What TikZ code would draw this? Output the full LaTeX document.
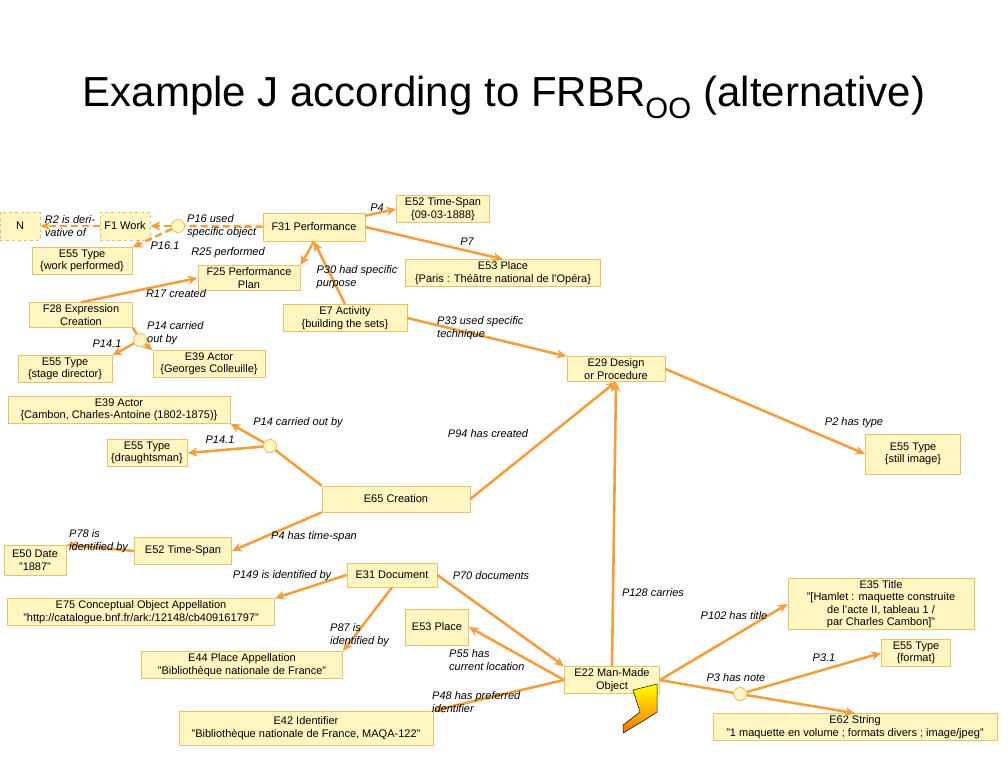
\documentclass[tikz,border=0pt]{standalone}
\usepackage{fontspec}
\setmainfont{Liberation Sans}
\usetikzlibrary{arrows.meta}
\definecolor{bfill}{HTML}{FFF6C2}
\definecolor{bdraw}{HTML}{E8C070}
\definecolor{arr}{HTML}{F0A040}
\begin{document}
\begin{tikzpicture}[x=1pt,y=-1pt,
 box/.style={draw=bdraw,fill=bfill,line width=0.8pt,align=center,font=\fontsize{11}{12.5}\selectfont,inner sep=2pt},
 dbox/.style={box,dashed},
 lk/.style={draw=arr,line width=2.6pt,-{Stealth[length=10pt,width=9pt]}},
 ln/.style={draw=arr,line width=2.6pt},
 dl/.style={dash pattern=on 7pt off 4pt},
 circ/.style={circle,draw=bdraw,fill=bfill,minimum size=13pt,inner sep=0pt,line width=0.8pt},
 lab/.style={font=\itshape\fontsize{11}{12.5}\selectfont,align=left,inner sep=0pt}]
\useasboundingbox (0,0) rectangle (1008,756);
\node[font=\fontsize{42}{46}\selectfont] (title) at (504,97) {Example J according to FRBR\textsubscript{OO} (alternative)};
% nodes
\node[dbox,minimum width=40pt,minimum height=28pt] (N) at (20,226) {N};
\node[dbox,minimum width=50pt,minimum height=28pt] (F1) at (125,226) {F1 Work};
\node[box,minimum width=102pt,minimum height=28pt] (F31) at (314,227) {F31 Performance};
\node[box,minimum width=93pt] (E52a) at (443,209) {E52 Time-Span\\\{09-03-1888\}};
\node[box,minimum width=195pt] (E53a) at (503,273) {E53 Place\\\{Paris : Théâtre national de l'Opéra\}};
\node[box,minimum width=100pt] (E55wp) at (82,261) {E55 Type\\\{work performed\}};
\node[box,minimum width=102pt] (F25) at (249,278) {F25 Performance\\Plan};
\node[box,minimum width=103pt] (F28) at (81,315) {F28 Expression\\Creation};
\node[box,minimum width=124pt] (E7) at (345,318) {E7 Activity\\\{building the sets\}};
\node[box,minimum width=112pt] (E39g) at (209,364) {E39 Actor\\\{Georges Colleuille\}};
\node[box,minimum width=94pt] (E55sd) at (65,369) {E55 Type\\\{stage director\}};
\node[box,minimum width=98pt] (E29) at (616,369) {E29 Design\\or Procedure};
\node[box,minimum width=222pt] (E39c) at (119,410) {E39 Actor\\\{Cambon, Charles-Antoine (1802-1875)\}};
\node[box,minimum width=80pt] (E55dr) at (147,453) {E55 Type\\\{draughtsman\}};
\node[box,minimum width=95pt,minimum height=40pt] (E55si) at (913,454) {E55 Type\\\{still image\}};
\node[box,minimum width=148pt,minimum height=26pt] (E65) at (396,499) {E65 Creation};
\node[box,minimum width=62pt,minimum height=30pt] (E50) at (35,560) {E50 Date\\"1887"};
\node[box,minimum width=97pt,minimum height=27pt] (E52b) at (183,551) {E52 Time-Span};
\node[box,minimum width=90pt,minimum height=24pt] (E31) at (392,575) {E31 Document};
\node[box,minimum width=267pt] (E75) at (141,612) {E75 Conceptual Object Appellation\\"http://catalogue.bnf.fr/ark:/12148/cb409161797"};
\node[box,minimum width=63pt,minimum height=36pt] (E53b) at (437,627) {E53 Place};
\node[box,minimum width=201pt] (E44) at (242,665) {E44 Place Appellation\\"Bibliothèque nationale de France"};
\node[box,minimum width=95pt] (E22) at (612,680) {E22 Man-Made\\Object};
\node[box,minimum width=186pt] (E35) at (881,604) {E35 Title\\"[Hamlet : maquette construite\\de l'acte II, tableau 1 /\\par Charles Cambon]"};
\node[box,minimum width=69pt] (E55f) at (916,653) {E55 Type\\\{format\}};
\node[box,minimum width=284pt] (E62) at (855,727) {E62 String\\"1 maquette en volume ; formats divers ; image/jpeg"};
\node[box,minimum width=254pt,minimum height=34pt] (E42) at (306,728) {E42 Identifier\\"Bibliothèque nationale de France, MAQA-122"};
\node[circ] (c1) at (178,226) {};
\node[circ] (c2) at (140,340) {};
\node[circ] (c3) at (270,446) {};
\node[circ] (c4) at (740,694) {};
% edges
\draw[lk,dl] (F1) -- (N);
\draw[ln,dl] (F31) -- (c1);
\draw[lk,dl] (c1) -- (F1);
\draw[lk,dl] (c1) -- (E55wp.north east);
\draw[lk] (F31) -- (E52a.west);
\draw[lk] (F31.east) -- (E53a.north);
\draw[lk] (F31.south) -- (F25.north east);
\draw[lk] (E7.north) -- (F31.south);
\draw[lk] (F28.north) -- (F25.west);
\draw[ln] (F28.south east) -- (c2);
\draw[lk] (c2) -- (E39g.north west);
\draw[lk] (c2) -- (E55sd.north east);
\draw[lk] (E7.east) -- (E29.north west);
\draw[lk] (E65.east) -- (E29.south);
\draw[ln] (E65.north west) -- (c3);
\draw[lk] (c3) -- (E39c.south east);
\draw[lk] (c3) -- (E55dr.east);
\draw[lk] (E65.south west) -- (E52b.east);
\draw[lk] (E52b.west) -- (E50.north east);
\draw[lk] (E31.west) -- (E75.north east);
\draw[lk] (E31.east) -- (E22.north west);
\draw[lk] (E31.south) -- (E44.north east);
\draw[lk] (E22.west) -- (E53b.east);
\draw[lk] (E22.west) -- (E42.north east);
\draw[lk] (E22.north) -- (E29.south);
\draw[lk] (E29.east) -- (E55si.west);
\draw[lk] (E22.east) -- (E35.west);
\draw[ln] (E22.east) -- (c4);
\draw[lk] (c4) -- (E55f.west);
\draw[lk] (c4) -- (E62.north);
\node[circ] at (c1) {};
\node[circ] at (c2) {};
\node[circ] at (c3) {};
\node[circ] at (c4) {};
% pointer shape
\shade[top color=yellow,bottom color=orange!90!red,draw=black,line width=0.5pt]
 (633,690) -- (657,684) -- (657,712) -- (648,718) -- (623,733) -- (623,725) -- (640,712) -- cycle;
% labels
\node[lab] (l1) at (70,226) {R2 is deri-\\vative of};
\node[lab,anchor=west] (l2) at (187,226) {P16 used\\specific object};
\node[lab] (l3) at (165,246) {P16.1};
\node[lab] (l4) at (228,253) {R25 performed};
\node[lab] (l5) at (377,208) {P4};
\node[lab] (l6) at (467,242) {P7};
\node[lab] (l7) at (357,277) {P30 had specific\\purpose};
\node[lab] (l8) at (176,294) {R17 created};
\node[lab,anchor=west] (l9) at (147,333) {P14 carried\\out by};
\node[lab] (l10) at (107,344) {P14.1};
\node[lab,anchor=west] (l11) at (437,328) {P33 used specific\\technique};
\node[lab] (l12) at (298,423) {P14 carried out by};
\node[lab] (l13) at (220,440) {P14.1};
\node[lab] (l14) at (488,434) {P94 has created};
\node[lab] (l15) at (854,423) {P2 has type};
\node[lab] (l16) at (314,537) {P4 has time-span};
\node[lab,anchor=west] (l17) at (69,541) {P78 is\\identified by};
\node[lab] (l18) at (282,576) {P149 is identified by};
\node[lab] (l19) at (491,576) {P70 documents};
\node[lab] (l20) at (653,593) {P128 carries};
\node[lab,anchor=west] (l21) at (330,635) {P87 is\\identified by};
\node[lab,anchor=west] (l22) at (449,660) {P55 has\\current location};
\node[lab,anchor=west] (l23) at (432,702) {P48 has preferred\\identifier};
\node[lab] (l24) at (734,616) {P102 has title};
\node[lab] (l25) at (824,658) {P3.1};
\node[lab] (l26) at (736,678) {P3 has note};
\end{tikzpicture}
\end{document}
